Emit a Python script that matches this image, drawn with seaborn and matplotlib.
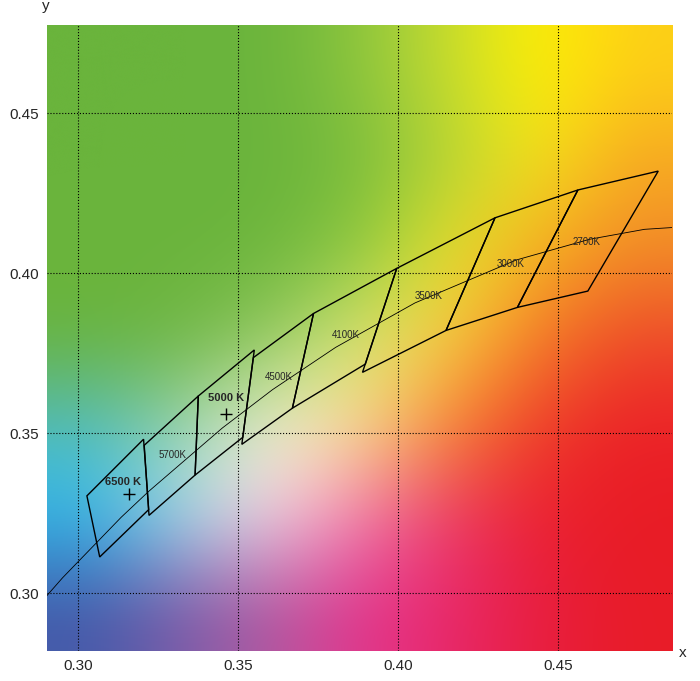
import numpy as np
import matplotlib
matplotlib.use("Agg")
import matplotlib.pyplot as plt
from matplotlib.colors import to_rgb
import seaborn as sns

sns.set_style("white")
plt.rcParams['font.family'] = ['Liberation Sans', 'DejaVu Sans']

# ANSI quadrangles, corners per CCT
cct_names = ["2700K", "3000K", "3500K", "4100K", "4500K", "5000K", "5700K", "6500K"]
quad_x = [
    [0.4813, 0.4562, 0.4373, 0.4593],
    [0.4562, 0.4303, 0.4150, 0.4373],
    [0.4303, 0.3996, 0.3889, 0.4150],
    [0.3996, 0.3736, 0.3670, 0.3898],
    [0.3736, 0.3548, 0.3512, 0.3670],
    [0.3551, 0.3376, 0.3366, 0.3515],
    [0.3376, 0.3207, 0.3222, 0.3366],
    [0.3205, 0.3028, 0.3068, 0.3221],
]
quad_y = [
    [0.4319, 0.4260, 0.3893, 0.3944],
    [0.4260, 0.4173, 0.3821, 0.3893],
    [0.4173, 0.4015, 0.3690, 0.3821],
    [0.4015, 0.3874, 0.3578, 0.3716],
    [0.3874, 0.3736, 0.3465, 0.3578],
    [0.3760, 0.3616, 0.3369, 0.3487],
    [0.3616, 0.3462, 0.3243, 0.3369],
    [0.3481, 0.3304, 0.3113, 0.3261],
]
# Planckian locus
locus_x = [0.2807, 0.2952, 0.3135, 0.3221, 0.3451, 0.3608, 0.3805, 0.4053, 0.4369, 0.4599, 0.4770, 0.4970]
locus_y = [0.2883, 0.3048, 0.3237, 0.3318, 0.3516, 0.3636, 0.3768, 0.3907, 0.4041, 0.4106, 0.4137, 0.4150]

small_labels = ["2700K", "3000K", "3500K", "4100K", "4500K", "5700K"]
small_lx = [0.4590, 0.4353, 0.4097, 0.3838, 0.3628, 0.3294]
small_ly = [0.4097, 0.4030, 0.3928, 0.3806, 0.3675, 0.3431]
bold_labels = ["5000 K", "6500 K"]
bold_lx = [0.3463, 0.3140]
bold_ly = [0.3609, 0.3347]
plus_x = [0.3463, 0.3159]
plus_y = [0.3559, 0.3309]

xlim = (0.2903, 0.4856)
ylim = (0.2819, 0.4775)

# background colour grid, bottom row first
bg_rows = [
    ["#4458a8", "#7a5aa8", "#b058a0", "#e4348e", "#e8286a", "#e81e40", "#e81c28"],
    ["#2cb8ee", "#a8dcf2", "#f6d4e6", "#f07cb0", "#ec3a6a", "#ec2030", "#e81c24"],
    ["#52bcc0", "#98d4a8", "#f4f6dc", "#fce090", "#f6862e", "#ee3a2a", "#ec2028"],
    ["#6ab43c", "#70b644", "#90c860", "#dcea78", "#fbd040", "#f47c28", "#ee4a2a"],
    ["#6ab43c", "#6ab43c", "#6cb53c", "#8cc840", "#e8e628", "#f8b020", "#f28c28"],
    ["#6ab43c", "#6ab43c", "#6ab43c", "#78bc3e", "#b4d438", "#f5e61a", "#f7a823"],
    ["#6ab43c", "#6ab43c", "#6ab43c", "#8cc63f", "#c8dc30", "#fff200", "#fdd017"],
]
bg = np.array([[to_rgb(c) for c in row] for row in bg_rows])

fig, ax = plt.subplots(figsize=(7, 6.81), dpi=100)
fig.subplots_adjust(left=0.067, right=0.96, bottom=0.044, top=0.963)
ax.imshow(bg, extent=[*xlim, *ylim], origin='lower', aspect='auto',
          interpolation='bicubic', zorder=0)

ax.plot(locus_x, locus_y, color='black', lw=0.6, zorder=2)
for qx, qy in zip(quad_x, quad_y):
    ax.fill(qx, qy, fill=False, edgecolor='black', lw=1.0, zorder=3)
for t, x, y in zip(small_labels, small_lx, small_ly):
    ax.text(x, y, t, fontsize=7, ha='center', va='center', zorder=4)
for t, x, y in zip(bold_labels, bold_lx, bold_ly):
    ax.text(x, y, t, fontsize=8, fontweight='bold', ha='center', va='center', zorder=4)
ax.scatter(plus_x, plus_y, marker='+', s=80, color='black', linewidths=1.0, zorder=4)

ax.set_xlim(*xlim)
ax.set_ylim(*ylim)
ax.set_xticks([0.30, 0.35, 0.40, 0.45])
ax.set_yticks([0.30, 0.35, 0.40, 0.45])
ax.set_xticklabels(["0.30", "0.35", "0.40", "0.45"], fontsize=11)
ax.set_yticklabels(["0.30", "0.35", "0.40", "0.45"], fontsize=11)
ax.grid(True, color='black', linestyle=':', lw=0.8, zorder=1)
ax.set_axisbelow(False)
for s in ax.spines.values():
    s.set_visible(False)
ax.tick_params(length=0, pad=6)
fig.text(0.975, 0.035, "x", fontsize=11, ha='center')
fig.text(0.065, 0.985, "y", fontsize=11, ha='center')

fig.savefig("out.png", dpi=100)
